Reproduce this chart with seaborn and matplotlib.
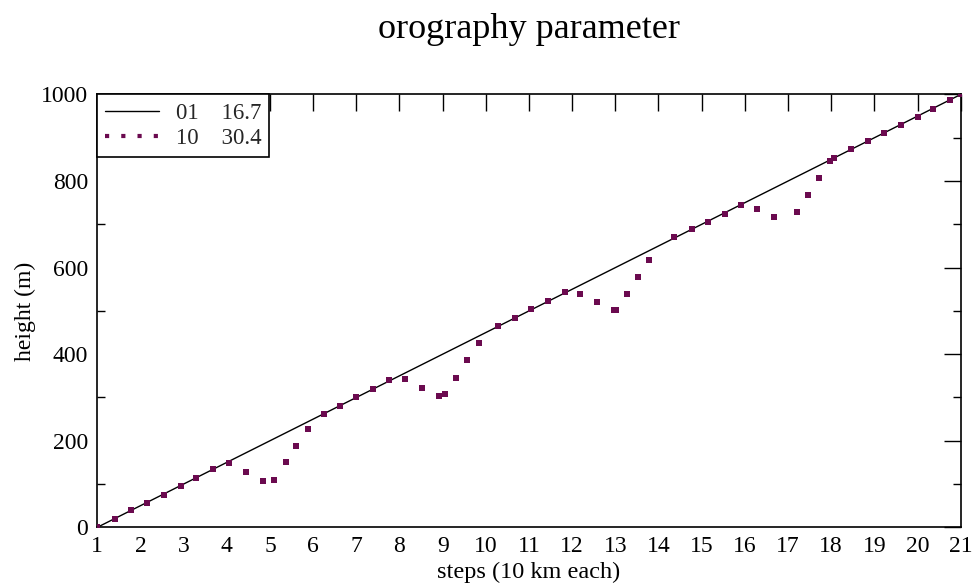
import matplotlib
matplotlib.use("Agg")
import matplotlib.pyplot as plt
from matplotlib.ticker import MultipleLocator
from matplotlib.lines import Line2D
import seaborn as sns
import pandas as pd

# series "01" (solid line)
line_x = [1, 21]
line_y = [0, 1000]

# series "10" (dotted, square markers)
dots_x = [1.00, 1.40, 1.79, 2.16, 2.55, 2.93, 3.29, 3.69, 4.05, 4.44,
          4.83, 5.09, 5.36, 5.61, 5.88, 6.24, 6.63, 6.99, 7.38, 7.76,
          8.13, 8.52, 8.92, 9.05, 9.31, 9.57, 9.84, 10.29, 10.68, 11.05,
          11.43, 11.83, 12.19, 12.57, 12.97, 13.01, 13.26, 13.52, 13.78, 14.37,
          14.77, 15.14, 15.53, 15.92, 16.28, 16.67, 17.20, 17.46, 17.72, 17.97,
          18.07, 18.47, 18.86, 19.22, 19.62, 20.01, 20.37, 20.75, 21.00]
dots_y = [0, 19, 39, 56, 75, 95, 114, 134, 148, 127,
          107, 110, 150, 189, 228, 262, 281, 301, 320, 340,
          343, 323, 304, 307, 346, 386, 425, 465, 484, 504,
          523, 543, 539, 520, 501, 501, 539, 579, 618, 671,
          690, 706, 725, 745, 736, 716, 729, 768, 807, 846,
          853, 873, 892, 910, 929, 948, 967, 987, 1000]

labels = ["01    16.7", "10    30.4"]
title = "orography parameter"
xlabel = "steps (10 km each)"
ylabel = "height (m)"

sns.set_theme(style="white")
plt.rcParams["font.family"] = ["Liberation Serif", "DejaVu Serif"]

fig = plt.figure(figsize=(9.76, 5.88), dpi=100)
ax = fig.add_axes([0.0997, 0.1032, 0.8846, 0.7361])

df_line = pd.DataFrame({"x": line_x, "y": line_y})
df_dots = pd.DataFrame({"x": dots_x, "y": dots_y})

purple = "#6b0a4f"
sns.lineplot(data=df_line, x="x", y="y", ax=ax, color="black", lw=1.0,
             legend=False, zorder=2)
sns.scatterplot(data=df_dots, x="x", y="y", ax=ax, color=purple, marker="s",
                s=14, linewidth=0, legend=False, zorder=3)

ax.set_xlim(1, 21)
ax.set_ylim(0, 1000)
ax.xaxis.set_major_locator(MultipleLocator(1))
ax.yaxis.set_major_locator(MultipleLocator(200))
ax.yaxis.set_minor_locator(MultipleLocator(100))
ax.tick_params(which="major", direction="in", length=12.5, width=1.0, color="black",
               top=True, right=True, labelsize=17, labelcolor="black")
ax.tick_params(axis="x", which="major", pad=6)
ax.tick_params(axis="y", which="major", pad=6.5)
ax.tick_params(which="minor", direction="in", length=6, width=1.0, color="black",
               left=True, right=True)
for s in ax.spines.values():
    s.set_color("black")
    s.set_linewidth(1.2)

ax.set_xlabel(xlabel, fontsize=17.5, color="black", labelpad=4)
ax.set_ylabel(ylabel, fontsize=17, color="black", labelpad=4)
fig.suptitle(title, fontsize=26, x=0.542, y=0.978, color="black")

handles = [Line2D([], [], color="black", lw=1.0),
           Line2D([], [], color=purple, ls=(0, (1, 2.9)), lw=3.0)]
leg = ax.legend(handles, labels, loc="upper left", fontsize=16.5, frameon=True,
                fancybox=False, framealpha=1, borderaxespad=0, handlelength=2.35,
                borderpad=0.35, labelspacing=0.2, handletextpad=0.72)
leg.get_frame().set_edgecolor("black")
leg.get_frame().set_linewidth(1.2)
leg.set_zorder(10)

fig.savefig("out.png", dpi=100, facecolor="white")
